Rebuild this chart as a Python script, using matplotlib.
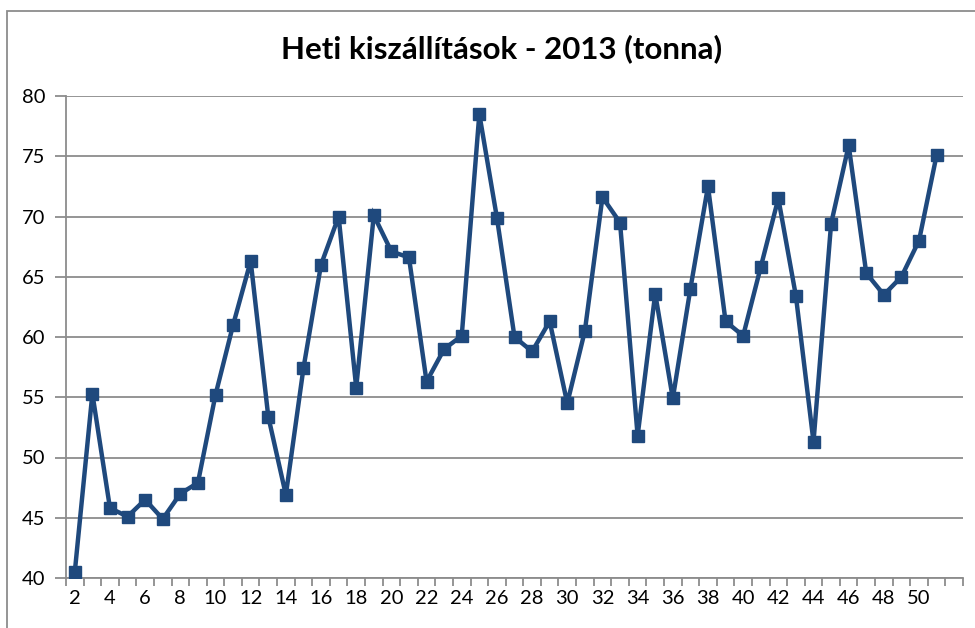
import numpy as np
import matplotlib
matplotlib.use('Agg')
import matplotlib.pyplot as plt
from matplotlib.patches import Rectangle

# weekly shipments 2013 (tonnes), weeks 2..51
weeks = list(range(2, 52))
tonnes = [40.5, 55.3, 45.8, 45.1, 46.5, 44.9, 47.0, 47.9, 55.2, 61.0,
          66.3, 53.4, 46.9, 57.4, 66.0, 70.0, 55.8, 70.1, 67.1, 66.6,
          56.3, 59.0, 60.1, 78.5, 69.9, 60.0, 58.8, 61.3, 54.5, 60.5,
          71.6, 69.5, 51.8, 63.6, 54.9, 64.0, 72.5, 61.3, 60.1, 65.8,
          71.5, 63.4, 51.3, 69.4, 75.9, 65.3, 63.5, 65.0, 68.0, 75.1]
x_labels = list(range(2, 51, 2))
y_ticks = [40, 45, 50, 55, 60, 65, 70, 75, 80]

plt.rcParams['font.family'] = ['Lato', 'DejaVu Sans']

fig = plt.figure(figsize=(9.75, 6.28), dpi=100)
fig.patches.append(Rectangle((7 / 975, -0.1), 1.2, 1 - 11 / 628 + 0.1,
                             transform=fig.transFigure, fill=False,
                             edgecolor='#8c8c8c', linewidth=1.3))

ax = fig.add_axes([66 / 975, 1 - 578 / 628, 897 / 975, 482 / 628])
ax.plot(weeks, tonnes, color='#1f497d', linewidth=3.2, marker='s',
        markersize=8.5, solid_joinstyle='miter', zorder=3)

ax.set_xlim(1.5, 52.5)
ax.set_ylim(40, 80)
ax.set_yticks(y_ticks)
ax.set_xticks(x_labels)
ax.set_xticks(np.arange(1.5, 53, 1), minor=True)
ax.tick_params(axis='x', which='major', length=0, pad=9, labelsize=14.5)
ax.tick_params(axis='x', which='minor', length=6, width=1.3, color='#8c8c8c',
               direction='out')
ax.tick_params(axis='y', length=8, width=1.3, color='#8c8c8c', pad=7,
               labelsize=14.5)
ax.grid(axis='y', color='#8c8c8c', linewidth=1.3, zorder=0)
ax.set_axisbelow(True)
for s in ['top', 'right']:
    ax.spines[s].set_visible(False)
for s in ['left', 'bottom']:
    ax.spines[s].set_color('#8c8c8c')
    ax.spines[s].set_linewidth(1.3)

fig.text(502 / 975, 1 - 49 / 628, 'Heti kiszállítások - 2013 (tonna)',
         ha='center', va='center', fontsize=22.5, fontweight='bold')

fig.savefig('out.png', dpi=100)
